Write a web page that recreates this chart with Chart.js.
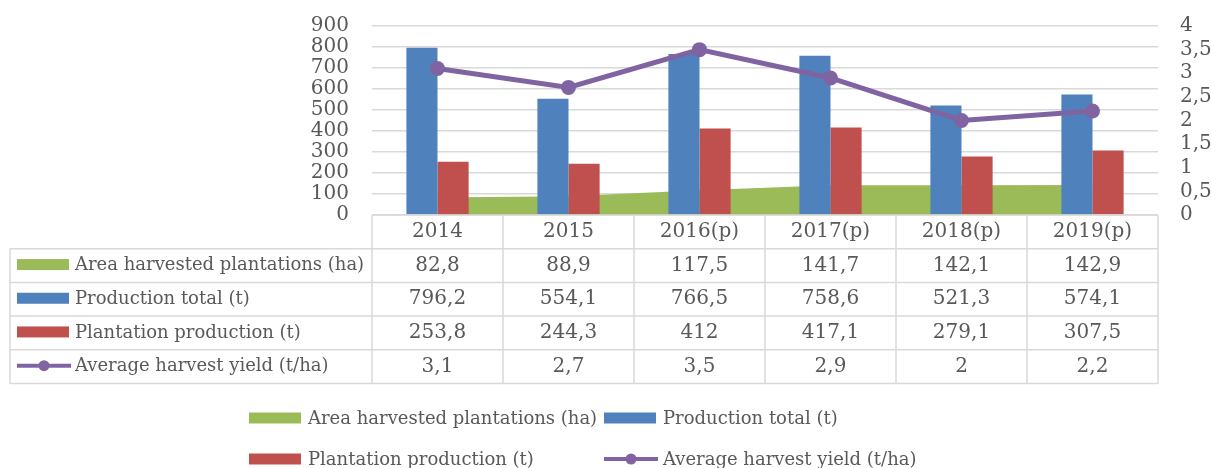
<!DOCTYPE html>
<html>
<head>
<meta charset="utf-8">
<script src="https://cdn.jsdelivr.net/npm/chart.js@4.4.0/dist/chart.umd.min.js"></script>
<style>
  html, body { margin: 0; padding: 0; background: #fff; }
</style>
</head>
<body>
<canvas id="chart" width="1211" height="468"></canvas>
<script>
// data
const years = ['2014', '2015', '2016(p)', '2017(p)', '2018(p)', '2019(p)'];
const areaHarvested = [82.8, 88.9, 117.5, 141.7, 142.1, 142.9];
const productionTotal = [796.2, 554.1, 766.5, 758.6, 521.3, 574.1];
const plantationProduction = [253.8, 244.3, 412, 417.1, 279.1, 307.5];
const averageYield = [3.1, 2.7, 3.5, 2.9, 2, 2.2];
const leftAxis = { max: 900, step: 100 };
const rightAxis = { max: 4, step: 0.5 };

const FONT = '"DejaVu Serif", serif';
const TEXT = '#595959';
const LINE = '#D9D9D9';

// decimal comma like the original
const fmt = v => String(v).replace('.', ',');

function drawKey(ctx, ds, x, y) {
  if (ds.type === 'line' && !ds.fill) {
    ctx.strokeStyle = ds.borderColor;
    ctx.lineWidth = 4;
    ctx.beginPath();
    ctx.moveTo(x, y);
    ctx.lineTo(x + 54, y);
    ctx.stroke();
    ctx.fillStyle = ds.borderColor;
    ctx.beginPath();
    ctx.arc(x + 27, y, 5.5, 0, Math.PI * 2);
    ctx.fill();
  } else {
    ctx.fillStyle = ds.backgroundColor;
    ctx.fillRect(x, y - 5.5, 52, 11);
  }
}

// keep the plot box fixed, no extra room for the tick labels
const fixAxis = w => s => {
  s.width = w;
  s.paddingTop = 0;
  s.paddingBottom = 0;
};

// data table under the plot, columns follow the x scale
const dataTable = {
  id: 'dataTable',
  afterDraw(chart) {
    const { ctx, chartArea } = chart;
    const xs = chart.scales.x;
    const colW = (chartArea.right - chartArea.left) / years.length;
    const top = chartArea.bottom;
    const rowH = 33.7;
    const tableLeft = 10;
    const rows = chart.data.datasets;
    const bottom = top + rowH * (rows.length + 1);

    ctx.save();
    ctx.strokeStyle = LINE;
    ctx.lineWidth = 1.5;
    ctx.beginPath();
    ctx.moveTo(chartArea.left, top);
    ctx.lineTo(chartArea.right, top);
    for (let r = 1; r <= rows.length + 1; r++) {
      ctx.moveTo(tableLeft, top + r * rowH);
      ctx.lineTo(chartArea.right, top + r * rowH);
    }
    ctx.moveTo(tableLeft, top + rowH);
    ctx.lineTo(tableLeft, bottom);
    for (let i = 0; i <= years.length; i++) {
      const x = xs.getPixelForValue(Math.min(i, years.length - 1)) + (i === years.length ? colW / 2 : -colW / 2);
      ctx.moveTo(x, top);
      ctx.lineTo(x, bottom);
    }
    ctx.stroke();

    ctx.font = '20px ' + FONT;
    ctx.fillStyle = TEXT;
    ctx.textBaseline = 'middle';
    ctx.textAlign = 'center';
    years.forEach((y, i) => ctx.fillText(y, xs.getPixelForValue(i), top + rowH / 2));

    rows.forEach((ds, r) => {
      const cy = top + rowH * (r + 1.5);
      ctx.font = '20px ' + FONT;
      ds.data.forEach((v, i) => {
        ctx.fillStyle = TEXT;
        ctx.textAlign = 'center';
        ctx.fillText(fmt(v), xs.getPixelForValue(i), cy);
      });
      drawKey(ctx, ds, 17, cy - 1);
      ctx.font = '18px ' + FONT;
      ctx.fillStyle = TEXT;
      ctx.textAlign = 'left';
      ctx.fillText(ds.label, 75, cy);
    });
    ctx.restore();
  }
};

// legend below the table, two columns
const bottomLegend = {
  id: 'bottomLegend',
  afterDraw(chart) {
    const { ctx } = chart;
    const spots = [[249, 418], [604, 418], [249, 459], [604, 459]];
    ctx.save();
    ctx.font = '18px ' + FONT;
    ctx.textBaseline = 'middle';
    ctx.textAlign = 'left';
    chart.data.datasets.forEach((ds, i) => {
      const [x, y] = spots[i];
      drawKey(ctx, ds, x, y);
      ctx.fillStyle = TEXT;
      ctx.fillText(ds.label, x + 59, y + 1);
    });
    ctx.restore();
  }
};

new Chart(document.getElementById('chart'), {
  data: {
    labels: years,
    datasets: [
      {
        type: 'line',
        label: 'Area harvested plantations (ha)',
        data: areaHarvested,
        yAxisID: 'y',
        fill: 'origin',
        backgroundColor: '#9BBB59',
        borderColor: '#9BBB59',
        borderWidth: 0,
        pointRadius: 0,
        tension: 0,
        order: 3
      },
      {
        type: 'bar',
        label: 'Production total (t)',
        data: productionTotal,
        yAxisID: 'y',
        backgroundColor: '#4F81BD',
        order: 1
      },
      {
        type: 'bar',
        label: 'Plantation production (t)',
        data: plantationProduction,
        yAxisID: 'y',
        backgroundColor: '#C0504D',
        order: 1
      },
      {
        type: 'line',
        label: 'Average harvest yield (t/ha)',
        data: averageYield,
        yAxisID: 'y1',
        fill: false,
        borderColor: '#8064A2',
        backgroundColor: '#8064A2',
        borderWidth: 5,
        pointRadius: 7.5,
        pointBackgroundColor: '#8064A2',
        pointBorderWidth: 0,
        tension: 0,
        order: 0
      }
    ]
  },
  options: {
    responsive: false,
    animation: false,
    devicePixelRatio: 1,
    layout: { padding: { left: 0, right: 0, top: 26, bottom: 253 } },
    datasets: {
      bar: { categoryPercentage: 0.475, barPercentage: 1 }
    },
    plugins: {
      legend: { display: false },
      tooltip: { enabled: false }
    },
    scales: {
      x: { display: false, offset: true },
      y: {
        position: 'left',
        min: 0,
        max: leftAxis.max,
        afterFit: fixAxis(372),
        border: { display: false },
        grid: { color: LINE, lineWidth: 1.5, drawTicks: false },
        ticks: { stepSize: leftAxis.step, autoSkip: false, padding: 23, color: TEXT, font: { family: FONT, size: 20, lineHeight: 1 } }
      },
      y1: {
        position: 'right',
        min: 0,
        max: rightAxis.max,
        afterFit: fixAxis(53),
        border: { display: false },
        grid: { display: false, drawTicks: false },
        ticks: { stepSize: rightAxis.step, autoSkip: false, padding: 22, color: TEXT, font: { family: FONT, size: 20, lineHeight: 1 }, callback: v => fmt(v) }
      }
    }
  },
  plugins: [dataTable, bottomLegend]
});
</script>
</body>
</html>
